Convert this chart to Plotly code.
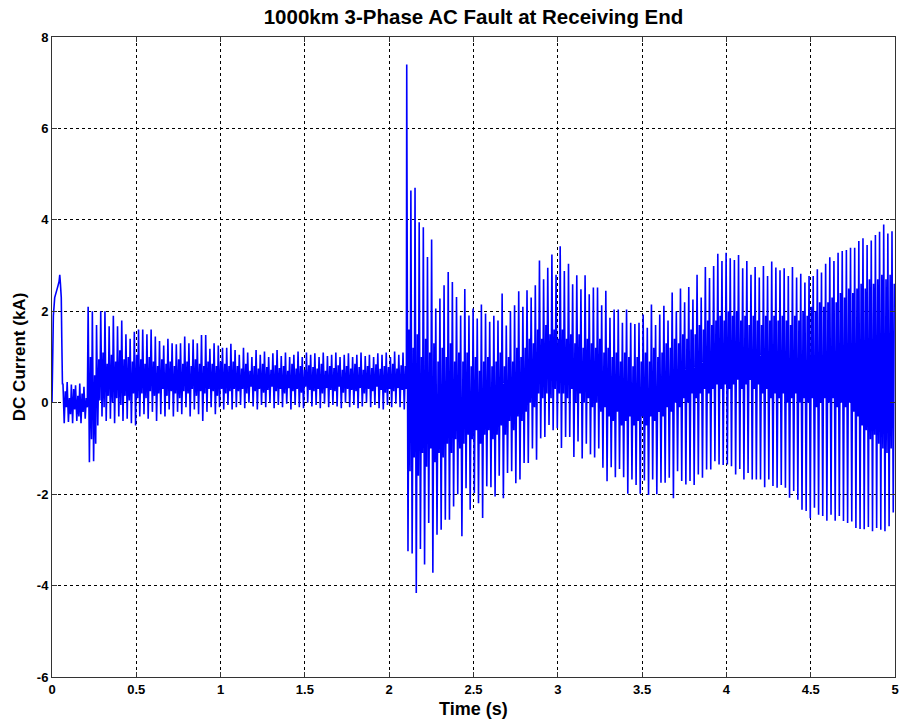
import plotly.graph_objects as go

# ---- start-up transient (time in s, current in kA) ----
startup_t = [0.0, 0.003, 0.008, 0.016, 0.025, 0.035, 0.042, 0.046, 0.050, 0.055, 0.058, 0.062]
startup_i = [0.0, 1.30, 1.90, 2.30, 2.40, 2.55, 2.65, 2.80, 2.60, 2.30, 1.40, 0.40]

# ---- pre-fault ripple: values for every ripple cycle ----
pre_t0 = 0.065
pre_period = 0.0249
pre_hi = [0.42, 0.45, 0.40, 0.38, 0.42, 0.35,
          2.10, 2.00,
          1.70, 2.00, 2.00, 1.67, 1.90, 1.67, 1.80, 1.50, 1.40, 1.55,
          1.60, 1.60, 1.50, 1.60, 1.45, 1.35, 1.25, 1.40, 1.30, 1.28, 1.30, 1.45, 1.30, 1.38,
          1.30, 1.48, 1.48, 1.18, 1.30, 1.25, 1.20, 1.20, 1.29,
          1.15, 1.05, 1.20, 1.10, 1.00, 1.15, 1.05, 1.12, 1.00, 1.08, 1.15, 1.02, 1.10, 1.00,
          1.05, 1.12, 1.00, 1.10, 1.05, 1.08, 1.00, 1.10, 1.02, 1.05, 1.10, 1.00, 1.05, 1.08,
          1.00, 1.05, 1.10, 1.02, 1.05, 1.00, 1.08, 1.05, 1.10, 1.00, 1.12, 1.05, 1.10]
pre_lo = [-0.45, -0.42, -0.45, -0.40, -0.45, -0.35,
          -1.30, -1.28,
          -0.50, -0.30, -0.40, -0.35, -0.45, -0.30, -0.40, -0.35, -0.45, -0.50,
          -0.30, -0.25, -0.35, -0.20, -0.40, -0.25, -0.30, -0.15, -0.30, -0.20, -0.25, -0.10,
          -0.30, -0.15, -0.25, -0.40, -0.20, -0.10, -0.25, -0.10, -0.15, -0.05, -0.15,
          -0.10, -0.05, -0.12, 0.00, -0.08, -0.15, -0.05, -0.10, 0.00, -0.12, -0.05, -0.10,
          -0.02, -0.15, -0.05, -0.10, -0.12, 0.00, -0.08, -0.05, -0.12, -0.02, -0.10, -0.05,
          -0.08, -0.12, 0.00, -0.10, -0.05, -0.12, -0.08, 0.00, -0.10, -0.05, -0.12, -0.15,
          -0.05, -0.10, -0.02, -0.10, -0.15]
# inner (secondary) swing of each cycle
pre_core_top = [0.25, 0.10, 0.30, 0.15, 0.20, 0.10,
                1.00, 0.60,
                0.95, 1.10, 0.85, 1.05, 0.90, 1.15, 0.95, 1.00, 0.90, 1.05,
                0.95, 0.85, 1.00, 0.90, 0.80, 0.95, 0.85, 0.90, 0.80, 0.95, 0.85, 0.90, 0.80,
                0.95, 0.85, 0.80, 0.90, 0.85, 0.80, 0.90, 0.85, 0.80, 0.90,
                0.80, 0.75, 0.85, 0.70, 0.80, 0.75, 0.85, 0.78, 0.72, 0.82, 0.76, 0.80, 0.70,
                0.85, 0.75, 0.80, 0.72, 0.82, 0.78, 0.75, 0.85, 0.70, 0.80, 0.76, 0.82, 0.72,
                0.80, 0.75, 0.85, 0.78, 0.72, 0.80, 0.76, 0.84, 0.74, 0.80, 0.78, 0.85, 0.75,
                0.82, 0.80]
pre_core_bot = [-0.10, -0.25, -0.15, -0.30, -0.20, -0.10,
                -0.80, -0.90,
                0.05, -0.10, 0.15, 0.00, 0.10, -0.05, 0.15, 0.05, 0.20, 0.10,
                0.20, 0.10, 0.25, 0.15, 0.20, 0.30, 0.15, 0.25, 0.20, 0.10, 0.25, 0.20, 0.30,
                0.15, 0.25, 0.20, 0.30, 0.25, 0.15, 0.30, 0.20, 0.25, 0.30,
                0.25, 0.30, 0.20, 0.35, 0.25, 0.30, 0.22, 0.28, 0.35, 0.25, 0.30, 0.20, 0.32,
                0.25, 0.30, 0.22, 0.35, 0.28, 0.25, 0.30, 0.20, 0.32, 0.28, 0.25, 0.35, 0.22,
                0.30, 0.28, 0.25, 0.32, 0.20, 0.30, 0.25, 0.35, 0.28, 0.22, 0.30, 0.25, 0.32,
                0.28, 0.30]

# ---- post-fault oscillation ----
post_t0 = 2.104
post_period = 0.0246
post_hi = [7.40, 4.64, 4.70, 3.95, 3.84, 3.19, 3.57, 2.06, 2.28, 2.57, 2.86, 2.64, 2.31,
           1.91, 2.49, 1.91, 2.06, 1.84, 2.15, 1.95, 1.77, 1.90, 1.80, 2.39, 1.69, 2.00,
           2.13, 2.44, 2.10, 2.46, 2.30, 2.57, 3.11, 2.70, 2.95, 3.24, 2.80,
           3.42, 2.88, 3.04, 2.59, 2.79, 2.48, 2.79, 2.37, 2.52, 2.52, 2.13, 2.45, 1.86,
           2.04, 2.04, 1.75, 2.04, 1.75, 1.72, 1.75, 1.93, 1.64, 2.15, 1.70, 1.93, 2.12,
           1.80, 2.41, 2.00, 2.50, 2.20, 2.53, 2.26, 2.80, 2.30, 2.97, 2.73, 2.99, 3.26,
           3.10, 3.28,
           3.16, 3.12, 3.23, 2.94, 3.10, 2.80, 2.97, 2.74, 2.99, 2.77, 3.09, 2.96, 2.90,
           2.94, 2.77, 2.97, 2.74, 2.82, 2.63, 2.77, 2.77, 2.92, 2.85, 3.04, 3.18, 3.10,
           3.28, 3.32, 3.34, 3.39, 3.39, 3.54, 3.60, 3.45, 3.55, 3.67, 3.74, 3.90, 3.70, 3.75]
post_lo = [-3.25, -3.30, -4.16, -3.20, -3.54, -2.63, -3.72, -2.89, -2.78, -2.56, -2.56,
           -2.27, -2.00, -2.92, -1.87, -2.34, -1.98, -2.20, -2.52, -1.83, -1.85, -2.05,
           -1.60, -2.09, -1.54, -1.50, -1.76, -1.68, -1.32, -1.32, -1.00, -1.25, -0.78,
           -0.75, -0.49, -0.60, -0.56,
           -0.99, -0.75, -0.75, -1.19, -0.85, -1.22, -0.90, -1.13, -1.20, -1.00, -1.42,
           -1.72, -1.41, -1.63, -1.45, -1.63, -1.99, -1.68, -1.80, -1.99, -1.70, -2.02,
           -1.68, -2.00, -1.75, -1.75, -1.64, -2.09, -1.50, -1.71, -1.79, -1.71, -1.80,
           -1.57, -1.64, -1.46, -1.46, -1.28, -1.35, -1.36, -1.35,
           -1.39, -1.57, -1.45, -1.68, -1.54, -1.68, -1.68, -1.68, -1.85, -1.68, -1.82,
           -1.86, -1.80, -1.86, -2.08, -1.93, -2.12, -2.34, -2.37, -2.53, -2.30, -2.45,
           -2.48, -2.58, -2.45, -2.58, -2.48, -2.59, -2.63, -2.60, -2.74, -2.76, -2.77,
           -2.72, -2.81, -2.74, -2.78, -2.81, -2.70, -2.40]
post_core_top = [1.6, 1.2, 1.5, 1.0, 1.4, 1.1, 1.3, 0.9, 1.2, 1.0, 1.3, 0.9, 1.1,
                 0.9, 1.1, 0.8, 1.0, 0.7, 0.9, 1.0, 0.8, 0.9, 1.1, 0.8, 1.0, 0.9, 1.2, 1.0,
                 1.2, 1.4, 1.3, 1.6, 1.4, 1.7, 1.5, 1.6, 1.4,
                 1.6, 1.4, 1.5, 1.3, 1.5, 1.2, 1.4, 1.3, 1.2, 1.4, 1.1,
                 1.2, 1.0, 1.1, 0.9, 1.1, 1.0, 0.8, 1.0, 0.9, 1.1, 0.9, 1.2, 1.0, 1.1, 1.3, 1.2,
                 1.4, 1.3, 1.5, 1.4, 1.6, 1.5, 1.7, 1.6, 1.8, 1.7, 1.8, 1.9, 1.8, 2.0,
                 1.9, 2.0, 1.8, 1.9, 1.7, 1.9, 1.8, 1.7, 1.9, 1.8, 1.9,
                 1.8, 1.9, 1.8, 1.7, 1.9, 1.8, 2.0, 1.9, 2.1, 2.0, 2.2, 2.1,
                 2.2, 2.3, 2.2, 2.4, 2.3, 2.5, 2.4, 2.5, 2.6, 2.5, 2.7, 2.6, 2.7, 2.8, 2.7,
                 2.8, 2.6]
post_core_bot = [-1.5, -1.2, -1.6, -1.1, -1.4, -1.0, -1.3, -1.1, -1.2, -0.9, -1.1, -0.8, -1.0,
                 -0.9, -0.7, -0.8, -0.6, -0.9, -0.7, -0.6, -0.8, -0.7, -0.5, -0.7, -0.4, -0.6,
                 -0.3, -0.4,
                 -0.2, 0.0, -0.1, 0.2, 0.1, 0.2, 0.1, 0.3, 0.2,
                 0.2, 0.1, 0.3, 0.0, 0.2, 0.0, 0.1, -0.1, 0.0, -0.2, -0.1,
                 -0.3, -0.4, -0.2, -0.5, -0.4, -0.3, -0.5, -0.4, -0.3, -0.5, -0.3, -0.4, -0.2,
                 -0.3, -0.1, -0.2,
                 0.0, -0.1, 0.1, 0.0, 0.2, 0.1, 0.2, 0.3, 0.2, 0.3, 0.4, 0.3, 0.4, 0.3,
                 0.4, 0.5, 0.3, 0.4, 0.5, 0.3, 0.4, 0.2, 0.3, 0.1, 0.2,
                 0.1, 0.2, 0.0, 0.1, 0.2, 0.0, 0.1, 0.0, 0.1, -0.1, 0.0, 0.1,
                 0.0, 0.1, -0.1, 0.0, -0.1, 0.0, -0.2, -0.3, -0.5, -0.6, -0.8, -0.7, -0.9,
                 -1.0, -1.1, -1.0, -1.2]

x_ticks = [0, 0.5, 1, 1.5, 2, 2.5, 3, 3.5, 4, 4.5, 5]
y_ticks = [-6, -4, -2, 0, 2, 4, 6, 8]


def ripple(t0, period, hi, lo, core_top, core_bot, t_end=5.0):
    """Lay out each cycle as main peak -> main trough -> inner top -> inner bottom."""
    ts, vs = [], []
    for k, (h, l, ct, cb) in enumerate(zip(hi, lo, core_top, core_bot)):
        t = t0 + k * period
        for frac, v in ((0.0, h), (0.3, l), (0.55, ct), (0.8, cb)):
            tt = t + frac * period
            if tt <= t_end:
                ts.append(tt)
                vs.append(v)
    return ts, vs


pre_t, pre_i = ripple(pre_t0, pre_period, pre_hi, pre_lo, pre_core_top, pre_core_bot)
post_t, post_i = ripple(post_t0, post_period, post_hi, post_lo, post_core_top, post_core_bot)

time_s = startup_t + pre_t + post_t
current_ka = startup_i + pre_i + post_i

fig = go.Figure()
fig.add_trace(go.Scatter(
    x=time_s, y=current_ka, mode="lines",
    line=dict(color="#0000FF", width=1.6),
    showlegend=False, hoverinfo="skip",
))

font_family = "Arial, Liberation Sans, Helvetica, sans-serif"
axis_common = dict(
    showline=True, linecolor="#333333", linewidth=1, mirror="ticks",
    ticks="inside", ticklen=5, tickcolor="#333333",
    showgrid=True, gridcolor="#000000", gridwidth=1, griddash="dot",
    zeroline=False,
    tickfont=dict(family=font_family, size=13, color="black", weight="bold"),
)

fig.update_layout(
    width=903, height=723,
    paper_bgcolor="white", plot_bgcolor="white",
    margin=dict(l=52, r=4, t=37, b=46),
    title=dict(
        text="<b>1000km 3-Phase AC Fault at Receiving End</b>",
        x=0.5, xref="paper", xanchor="center",
        y=1 - 17 / 723, yref="container", yanchor="middle",
        font=dict(family=font_family, size=20.5, color="black"),
    ),
    xaxis=dict(range=[0, 5], tickvals=x_ticks, ticktext=[f"{v:g}" for v in x_ticks], **axis_common),
    yaxis=dict(range=[-6, 8], tickvals=y_ticks, ticktext=[f"{v:g}" for v in y_ticks], **axis_common),
    annotations=[
        dict(text="<b>Time (s)</b>", xref="paper", yref="paper", x=0.5, y=0,
             xanchor="center", yanchor="top", yshift=-20, showarrow=False,
             font=dict(family=font_family, size=18, color="black")),
        dict(text="<b>DC Current (kA)</b>", xref="paper", yref="paper",
             x=-(52 - 19) / 847, y=0.5, xanchor="center", yanchor="middle",
             textangle=-90, showarrow=False,
             font=dict(family=font_family, size=17, color="black")),
    ],
)

fig.write_html("out.html")
